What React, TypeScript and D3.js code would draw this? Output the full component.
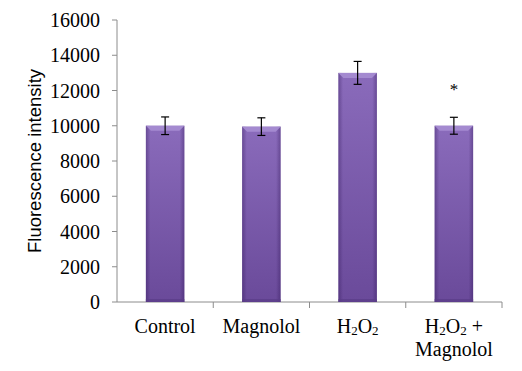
import { scaleBand, scaleLinear } from "d3";

const categories = ["Control", "Magnolol", "H2O2", "H2O2 + Magnolol"];
const values = [10000, 9950, 13000, 10000];
const errors = [500, 500, 650, 480];
const marks = ["", "", "", "*"];
const yTicks = [0, 2000, 4000, 6000, 8000, 10000, 12000, 14000, 16000];

const W = 522;
const H = 371;
const margin = { top: 20, right: 20, bottom: 69, left: 117 };

// "H2O2" -> H with small lowered 2s
function Chem({ text }: { text: string }) {
  const parts = text.split(/(2)/).filter((p) => p !== "");
  return (
    <>
      {parts.map((p, i) =>
        p === "2" ? (
          <tspan key={i} fontSize="13" dy="2">
            2
          </tspan>
        ) : (
          <tspan key={i} dy={i > 0 && parts[i - 1] === "2" ? -2 : 0}>
            {p}
          </tspan>
        )
      )}
    </>
  );
}

export default function App() {
  const x = scaleBand<string>()
    .domain(categories)
    .range([margin.left, W - margin.right])
    .paddingInner(0.6)
    .paddingOuter(0.3);
  const band = scaleBand<string>()
    .domain(categories)
    .range([margin.left, W - margin.right]);
  const y = scaleLinear()
    .domain([0, 16000])
    .range([H - margin.bottom, margin.top]);
  const y0 = y(0);

  return (
    <div style={{ position: "absolute", left: 0, top: 0 }}>
      <svg width={W} height={H} style={{ display: "block", background: "#fff" }}>
        <defs>
          <linearGradient id="barV" x1="0" y1="0" x2="0" y2="1">
            <stop offset="0%" stopColor="#8a6bbb" />
            <stop offset="100%" stopColor="#6a4a9a" />
          </linearGradient>
          <linearGradient id="barH" x1="0" y1="0" x2="1" y2="0">
            <stop offset="0%" stopColor="#2a1050" stopOpacity="0.35" />
            <stop offset="12%" stopColor="#2a1050" stopOpacity="0" />
            <stop offset="88%" stopColor="#2a1050" stopOpacity="0" />
            <stop offset="100%" stopColor="#2a1050" stopOpacity="0.35" />
          </linearGradient>
        </defs>

        {/* y axis */}
        <line x1={margin.left} x2={margin.left} y1={margin.top} y2={y0} stroke="#8c8c8c" />
        {yTicks.map((t) => (
          <g key={t} transform={`translate(0,${y(t)})`}>
            <line x1={margin.left - 5} x2={margin.left} stroke="#8c8c8c" />
            <text
              x={margin.left - 17}
              dy="0.35em"
              textAnchor="end"
              fontFamily="Liberation Serif"
              fontSize="20"
              fill="#000"
            >
              {t}
            </text>
          </g>
        ))}
        <text
          transform={`translate(41,${(margin.top + y0) / 2}) rotate(-90)`}
          textAnchor="middle"
          fontFamily="Liberation Sans"
          fontSize="18.5"
          fill="#000"
        >
          Fluorescence intensity
        </text>

        {/* x axis */}
        <line x1={margin.left} x2={W - margin.right} y1={y0} y2={y0} stroke="#8c8c8c" />
        {categories.map((c) => (
          <line
            key={c}
            x1={(band(c) ?? 0) + band.bandwidth()}
            x2={(band(c) ?? 0) + band.bandwidth()}
            y1={y0}
            y2={y0 + 6}
            stroke="#8c8c8c"
          />
        ))}

        {/* bars */}
        {categories.map((c, i) => {
          const bx = x(c) ?? 0;
          const bw = x.bandwidth();
          const top = y(values[i]);
          const cx = bx + bw / 2;
          return (
            <g key={c}>
              <rect x={bx} y={top} width={bw} height={y0 - top} fill="url(#barV)" />
              <rect x={bx} y={top} width={bw} height={y0 - top} fill="url(#barH)" />
              <path
                d={`M${bx},${top} L${bx + bw},${top} L${bx + bw - 5},${top + 5} L${bx + 5},${top + 5} Z`}
                fill="#a48ad0"
              />
              <rect x={bx} y={y0 - 3} width={bw} height={3} fill="#5a3c88" opacity={0.7} />
              <line
                x1={cx}
                x2={cx}
                y1={y(values[i] + errors[i])}
                y2={y(values[i] - errors[i])}
                stroke="#000"
                strokeWidth={1.2}
              />
              <line
                x1={cx - 4}
                x2={cx + 4}
                y1={y(values[i] + errors[i])}
                y2={y(values[i] + errors[i])}
                stroke="#000"
                strokeWidth={1.2}
              />
              <line
                x1={cx - 4}
                x2={cx + 4}
                y1={y(values[i] - errors[i])}
                y2={y(values[i] - errors[i])}
                stroke="#000"
                strokeWidth={1.2}
              />
              {marks[i] && (
                <text
                  x={cx}
                  y={y(values[i] + errors[i]) - 22}
                  textAnchor="middle"
                  fontFamily="Liberation Serif"
                  fontSize="17"
                  fill="#000"
                >
                  {marks[i]}
                </text>
              )}
            </g>
          );
        })}

        {/* category labels */}
        {categories.map((c) => {
          const cx = (band(c) ?? 0) + band.bandwidth() / 2;
          const lines = c.includes(" + ") ? [c.split(" + ")[0] + " +", c.split(" + ")[1]] : [c];
          return (
            <text
              key={c}
              textAnchor="middle"
              fontFamily="Liberation Serif"
              fontSize="20"
              fill="#000"
            >
              {lines.map((l, j) => (
                <tspan key={j} x={cx} y={y0 + 31 + j * 23}>
                  <Chem text={l} />
                </tspan>
              ))}
            </text>
          );
        })}
      </svg>
    </div>
  );
}
